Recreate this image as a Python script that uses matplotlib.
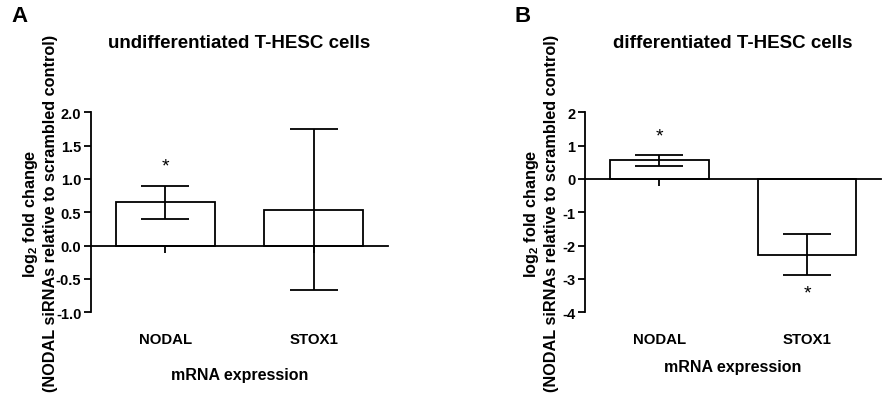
import matplotlib
matplotlib.use("Agg")
import matplotlib.pyplot as plt

plt.rcParams['font.family'] = ['Liberation Sans', 'DejaVu Sans']
plt.rcParams['font.weight'] = 'bold'
plt.rcParams['axes.unicode_minus'] = False
plt.rcParams['mathtext.fontset'] = 'custom'
plt.rcParams['mathtext.rm'] = 'Liberation Sans:bold'
plt.rcParams['mathtext.bf'] = 'Liberation Sans:bold'
plt.rcParams['mathtext.default'] = 'bf'

categories = ["NODAL", "STOX1"]

a_title = "undifferentiated T-HESC cells"
a_values = [0.65, 0.54]
a_errors = [0.25, 1.21]
a_star_y = [1.2, None]
a_yticks = [-1.0, -0.5, 0.0, 0.5, 1.0, 1.5, 2.0]
a_yticklabels = ["-1.0", "-0.5", "0.0", "0.5", "1.0", "1.5", "2.0"]

b_title = "differentiated T-HESC cells"
b_values = [0.56, -2.27]
b_errors = [0.165, 0.62]
b_star_y = [1.3, -3.42]
b_yticks = [-4, -3, -2, -1, 0, 1, 2]
b_yticklabels = ["-4", "-3", "-2", "-1", "0", "1", "2"]

ylabel = "log$_\\mathbf{2}$ fold change\n(NODAL siRNAs relative to scrambled control)"
xlabel = "mRNA expression"

W, H = 892, 402
fig = plt.figure(figsize=(W / 100, H / 100), dpi=100)

LW = 1.3

def panel(rect, letter, letter_x, title, values, errors, stars, yticks, yticklabels,
          ylabel_x, xlabel_y):
    ax = fig.add_axes(rect)
    x = list(range(len(categories)))
    ax.bar(x, values, width=0.667, color='white', edgecolor='black', linewidth=LW, zorder=2)
    ax.errorbar(x, values, yerr=errors, fmt='none', ecolor='black', elinewidth=LW,
                capsize=17.5, capthick=LW, zorder=3)
    for xi, sy in zip(x, stars):
        if sy is not None:
            ax.text(xi, sy, "*", ha='center', va='center', fontsize=14, fontweight='normal')
    ax.set_xlim(-0.5, 1.5)
    ax.set_ylim(yticks[0], yticks[-1])
    ax.set_yticks(yticks)
    ax.set_yticklabels(yticklabels, fontsize=10.5, fontweight='bold')
    ax.spines['top'].set_visible(False)
    ax.spines['right'].set_visible(False)
    ax.spines['bottom'].set_position(('data', 0))
    ax.spines['bottom'].set_zorder(4)
    for s in ax.spines.values():
        s.set_linewidth(LW)
    ax.set_xticks(x)
    ax.tick_params(axis='x', direction='out', length=5, width=LW, labelbottom=False)
    ax.tick_params(axis='y', direction='out', length=5, width=LW, pad=2)
    tr = ax.get_xaxis_transform()
    for xi, c in zip(x, categories):
        ax.text(xi, -0.133, c, transform=tr, ha='center', va='center', fontsize=10.8,
                fontweight='bold')
    ax.text(0.5, xlabel_y, xlabel, transform=ax.transAxes, ha='center', va='center',
            fontsize=11.5, fontweight='bold')
    ax.text(0.5, 1.347, title, transform=ax.transAxes, ha='center', va='center',
            fontsize=13.5, fontweight='bold')
    ax.set_ylabel(ylabel, fontsize=11.7, fontweight='bold', linespacing=1.25)
    ax.yaxis.set_label_coords(ylabel_x, 0.5)
    fig.text(letter_x / W, 1 - 16 / H, letter, ha='center', va='center', fontsize=16,
             fontweight='bold')
    return ax

bottom = 1 - 313.3 / H
height = 200 / H
panel([91 / W, bottom, 297 / W, height], "A", 19, a_title, a_values, a_errors, a_star_y,
      a_yticks, a_yticklabels, -0.11, -0.31)
panel([585.3 / W, bottom, 295.7 / W, height], "B", 523, b_title, b_values, b_errors, b_star_y,
      b_yticks, b_yticklabels, -0.09, -0.27)

fig.savefig("out.png", dpi=100)
